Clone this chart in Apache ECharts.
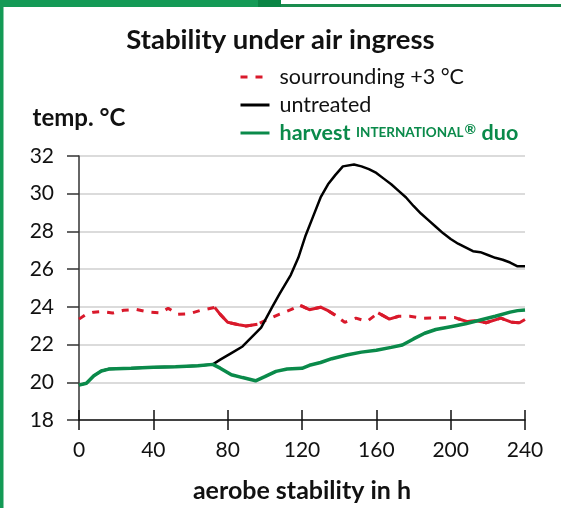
<!DOCTYPE html>
<html>
<head>
<meta charset="utf-8">
<script src="https://cdn.jsdelivr.net/npm/echarts@6/dist/echarts.min.js"></script>
<style>html,body{margin:0;padding:0;background:#fff;}#c{width:561px;height:508px;}</style>
</head>
<body>
<div id="c"></div>
<script>
// ---- data ----
var xTicks = [0, 40, 80, 120, 160, 200, 240];
var yTicks = [18, 20, 22, 24, 26, 28, 30, 32];

var redHours = [0,4,8,12,18,24,31,38,44,48,53,59,65,73,76,80,86,90,96,102,108,114,119,124,130,134,138,143,149,155,161,167,172,178,185,194,202,204,209,214,219,227,233,237,240];
var redTemps = [23.35,23.62,23.72,23.75,23.67,23.82,23.86,23.72,23.68,23.93,23.6,23.63,23.8,23.97,23.6,23.18,23.05,22.98,23.08,23.35,23.62,23.85,24.08,23.85,23.98,23.8,23.55,23.18,23.4,23.23,23.68,23.35,23.5,23.5,23.4,23.42,23.44,23.37,23.22,23.26,23.16,23.4,23.18,23.16,23.33];
// hour ranges where the reference's red line reads as continuous
var redSolidRanges = [[73,96],[119,138],[161,172],[204,240]];

var blackHours = [0,4,8,12,16,20,28,40,52,64,72,76,82,88,94,98,104,108,114,118,122,126,130,134,138,142,148,152,156,160,164,168,172,176,180,184,188,192,196,200,204,208,212,216,220,224,228,232,236,240];
var blackTemps = [19.85,19.95,20.35,20.6,20.7,20.72,20.75,20.8,20.82,20.88,20.95,21.2,21.55,21.9,22.5,22.9,24.0,24.7,25.7,26.6,27.8,28.8,29.8,30.5,31.0,31.45,31.55,31.45,31.3,31.1,30.8,30.5,30.15,29.8,29.35,28.95,28.6,28.25,27.9,27.6,27.35,27.15,26.95,26.9,26.75,26.6,26.5,26.35,26.15,26.15];

var greenHours = [0,4,8,12,16,20,28,40,52,64,72,76,82,88,95,100,106,112,120,124,130,136,144,152,160,168,174,180,186,192,200,208,216,224,232,236,240];
var greenTemps = [19.85,19.95,20.35,20.6,20.7,20.72,20.75,20.8,20.82,20.88,20.95,20.75,20.4,20.25,20.08,20.3,20.58,20.7,20.74,20.9,21.05,21.25,21.45,21.6,21.7,21.85,21.98,22.3,22.6,22.8,22.95,23.1,23.3,23.5,23.72,23.8,23.83];

var legendNames = ['sourrounding +3 °C', 'untreated', 'harvest'];

function pairs(xs, ys){ return xs.map(function(x,i){ return [x, ys[i]]; }); }
function inRanges(h){ return redSolidRanges.some(function(r){ return h >= r[0] && h <= r[1]; }); }

var redData = pairs(redHours, redTemps);
var redSolid = redHours.map(function(h,i){ return inRanges(h) ? [h, redTemps[i]] : [h, null]; });

var RED = '#d9192b', GREEN = '#0a8a4a', FONT = 'Lato, "Open Sans", sans-serif';

var chart = echarts.init(document.getElementById('c'), null, {renderer:'canvas'});
chart.setOption({
  animation: false,
  backgroundColor: '#ffffff',
  textStyle: {fontFamily: FONT},
  title: {
    text: 'Stability under air ingress',
    left: 'center', top: 21,
    textStyle: {fontFamily: FONT, fontWeight: 'bold', fontSize: 27.5, color: '#111'}
  },
  legend: {
    orient: 'vertical', left: 234, top: 61,
    itemWidth: 29, itemHeight: 14, itemGap: 6,
    itemStyle: {opacity: 0},
    lineStyle: {width: 3},
    textStyle: {
      fontFamily: FONT, fontSize: 21.5, color: '#111', padding: [0, 0, 0, 5],
      rich: {
        b: {fontFamily: FONT, fontWeight: 'bold', fontSize: 21.5, color: GREEN},
        s: {fontFamily: FONT, fontWeight: 'bold', fontSize: 13.5, color: GREEN},
        r: {fontFamily: FONT, fontWeight: 'bold', fontSize: 14, color: GREEN, padding: [0, 0, 8, 1]}
      }
    },
    formatter: function(name){
      if (name === 'harvest') return '{b|harvest} {s|INTERNATIONAL}{r|®} {b|duo}';
      return name;
    },
    data: legendNames
  },
  grid: {left: 79, right: 36, top: 156, bottom: 86, containLabel: false},
  xAxis: [{
    type: 'value', min: 0, max: 240, interval: 40,
    axisLine: {show: true, lineStyle: {color: '#111', width: 1.5}},
    axisTick: {show: true, length: 10, lineStyle: {color: '#111', width: 1.5}},
    axisLabel: {fontFamily: FONT, fontSize: 21, color: '#111', margin: 20,
      formatter: function(v){ return xTicks.indexOf(v) >= 0 ? String(v) : ''; }},
    splitLine: {show: false},
    name: 'aerobe stability in h', nameLocation: 'middle', nameGap: 58,
    nameTextStyle: {fontFamily: FONT, fontWeight: 'bold', fontSize: 25, color: '#111'}
  }, {
    type: 'value', min: 0, max: 240, interval: 40, position: 'bottom',
    axisLine: {show: false},
    axisTick: {show: true, inside: true, length: 10, lineStyle: {color: '#111', width: 1.5}},
    axisLabel: {show: false}, splitLine: {show: false}
  }],
  yAxis: {
    type: 'value', min: 18, max: 32, interval: 2,
    axisLine: {show: true, lineStyle: {color: '#333', width: 1.5}},
    axisTick: {show: true, length: 12, lineStyle: {color: '#333', width: 1.5}},
    axisLabel: {fontFamily: FONT, fontSize: 21, color: '#111', margin: 25,
      formatter: function(v){ return yTicks.indexOf(v) >= 0 ? String(v) : ''; }},
    splitLine: {show: true, lineStyle: {color: '#cfcfcf', width: 1.5}},
    name: 'temp. °C', nameLocation: 'end', nameGap: 26,
    nameTextStyle: {fontFamily: FONT, fontWeight: 'bold', fontSize: 24, color: '#111', align: 'center'}
  },
  graphic: [
    {type: 'rect', left: 0, top: 0, shape: {width: 3.5, height: 508}, style: {fill: '#139a55'}, silent: true, z: 100},
    {type: 'rect', left: 0, top: 0, shape: {width: 258, height: 7}, style: {fill: '#149a56'}, silent: true, z: 100},
    {type: 'rect', left: 258, top: 0, shape: {width: 23, height: 7}, style: {fill: '#0a8545'}, silent: true, z: 100},
    {type: 'rect', left: 281, top: 4, shape: {width: 280, height: 3}, style: {fill: '#1a8c4e'}, silent: true, z: 100}
  ],
  series: [
    {name: 'sourrounding +3 °C', type: 'line', data: redData, showSymbol: false, symbol: 'none',
      lineStyle: {color: RED, width: 3, type: [7, 8]}, itemStyle: {color: RED}, z: 3},
    {name: 'sourrounding-solid', type: 'line', data: redSolid, showSymbol: false, symbol: 'none', connectNulls: false,
      lineStyle: {color: RED, width: 3}, itemStyle: {color: RED}, silent: true, z: 3},
    {name: 'untreated', type: 'line', data: pairs(blackHours, blackTemps), showSymbol: false, symbol: 'none',
      lineStyle: {color: '#000', width: 2.5}, itemStyle: {color: '#000'}, z: 4},
    {name: 'harvest', type: 'line', data: pairs(greenHours, greenTemps), showSymbol: false, symbol: 'none',
      lineStyle: {color: GREEN, width: 3.5}, itemStyle: {color: GREEN}, z: 5}
  ]
});
</script>
</body>
</html>
